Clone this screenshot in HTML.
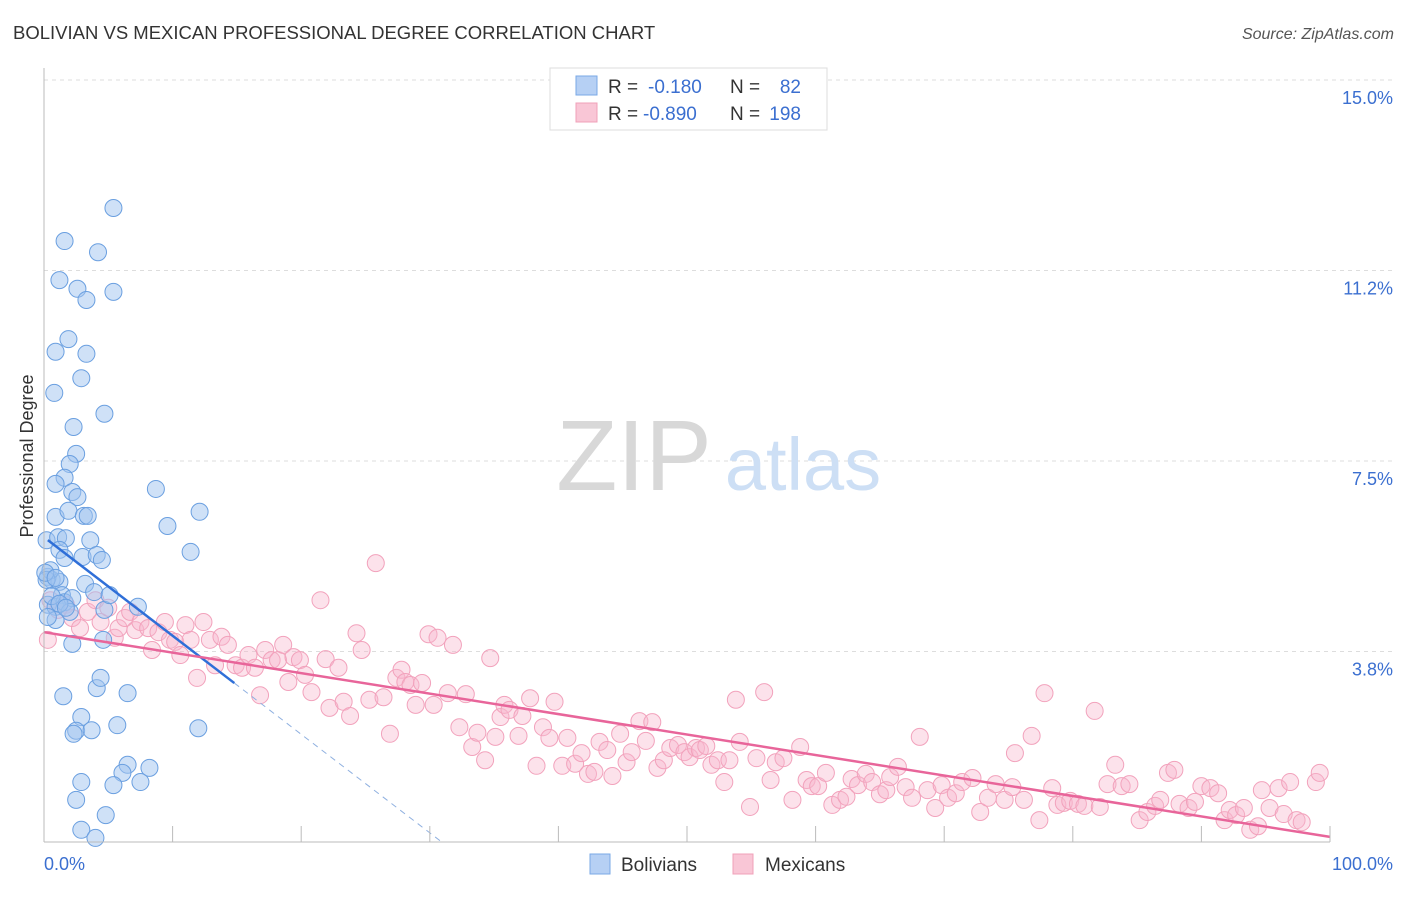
<!DOCTYPE html>
<html><head><meta charset="utf-8">
<style>
body{margin:0;background:#fff;font-family:"Liberation Sans",sans-serif;}
svg text{font-family:"Liberation Sans",sans-serif;}
</style></head>
<body>
<svg id="chart" width="1406" height="892" viewBox="0 0 1406 892" xmlns="http://www.w3.org/2000/svg">
<text x="13" y="39" font-size="18.5" fill="#333">BOLIVIAN VS MEXICAN PROFESSIONAL DEGREE CORRELATION CHART</text>
<text x="1394" y="39" font-size="16" fill="#555" text-anchor="end" font-style="italic">Source: ZipAtlas.com</text>
<g id="grid"></g>
<g>
<text x="634" y="490" font-size="100" fill="#d8d8d8" text-anchor="middle" font-family="Liberation Serif, serif">ZIP</text>
<text x="803" y="490" font-size="74" fill="#cddff5" text-anchor="middle">atlas</text>
</g>
<g id="pts"></g>
<g id="lines"></g>
<g id="axes"></g>
<text transform="translate(33,456) rotate(-90)" font-size="18" fill="#333" text-anchor="middle">Professional Degree</text>
<g>
<rect x="550" y="68" width="277" height="62" fill="#fff" stroke="#ddd"/>
<rect x="576" y="76" width="21" height="19" fill="#b6d0f4" stroke="#7aa8e6"/>
<rect x="576" y="103" width="21" height="19" fill="#f9c6d6" stroke="#f0a0b8"/>
<text x="608" y="93" font-size="19" fill="#333">R =</text>
<text x="648" y="93" font-size="19" fill="#3b6fd0">-0.180</text>
<text x="730" y="93" font-size="19" fill="#333">N =</text>
<text x="801" y="93" font-size="19" fill="#3b6fd0" text-anchor="end">82</text>
<text x="608" y="120" font-size="19" fill="#333">R =</text>
<text x="643" y="120" font-size="19" fill="#3b6fd0">-0.890</text>
<text x="730" y="120" font-size="19" fill="#333">N =</text>
<text x="801" y="120" font-size="19" fill="#3b6fd0" text-anchor="end">198</text>
</g>
<g>
<rect x="590" y="854" width="20" height="20" fill="#b6d0f4" stroke="#7aa8e6"/>
<text x="621" y="871" font-size="19" fill="#333">Bolivians</text>
<rect x="733" y="854" width="20" height="20" fill="#f9c6d6" stroke="#f0a0b8"/>
<text x="765" y="871" font-size="19" fill="#333">Mexicans</text>
</g>
</svg>
<script>
const yTicks=[3.75,7.5,11.25,15];
const yTickLabels=["3.8%","7.5%","11.2%","15.0%"];
const xTickLabels=["0.0%","100.0%"];
const bolX=[5.4,1.6,4.2,1.2,2.6,3.3,5.4,1.9,0.9,3.3,2.9,0.8,4.7,2.3,2.5,2.0,1.6,0.9,8.7,2.2,2.6,12.1,9.6,0.9,1.9,3.1,3.4,0.2,1.1,1.7,3.6,1.2,1.6,3.0,4.1,4.5,11.4,0.3,0.6,1.2,3.2,3.9,1.4,0.3,0.9,1.6,2.2,7.3,4.7,0.9,2.0,0.3,2.2,4.6,1.5,4.1,4.4,6.5,12.0,2.9,2.5,2.3,3.7,5.7,2.9,6.5,8.2,6.1,5.4,7.5,2.5,4.8,2.9,4.0,5.1,0.5,0.2,0.6,1.2,1.7,0.1,0.9];
const bolY=[12.48,11.83,11.61,11.06,10.89,10.67,10.83,9.90,9.65,9.61,9.13,8.84,8.43,8.17,7.64,7.44,7.17,7.05,6.95,6.89,6.79,6.50,6.22,6.40,6.52,6.42,6.42,5.94,6.00,5.98,5.94,5.75,5.59,5.61,5.65,5.55,5.71,5.22,5.16,5.12,5.08,4.92,4.86,4.67,4.63,4.72,4.80,4.63,4.57,4.37,4.53,4.43,3.90,3.98,2.87,3.03,3.23,2.93,2.24,2.46,2.19,2.13,2.20,2.30,1.18,1.52,1.46,1.36,1.12,1.18,0.83,0.53,0.24,0.08,4.86,5.35,5.16,4.84,4.69,4.61,5.30,5.20];
const mexX=[0.3,0.5,1.1,1.7,2.2,2.8,3.4,4.0,4.4,5.0,5.5,5.8,6.3,6.7,7.1,7.5,8.1,8.4,8.9,9.4,9.8,10.2,10.6,11.0,11.4,11.9,12.4,12.9,13.3,13.8,14.3,14.9,15.4,15.9,16.4,16.8,17.2,17.7,18.2,18.6,19.0,19.4,19.9,20.3,20.8,21.5,21.9,22.2,22.9,23.3,23.8,24.3,24.7,25.3,25.8,26.4,26.9,27.4,27.8,28.1,28.5,28.9,29.4,29.9,30.3,30.6,31.4,31.8,32.3,32.8,33.3,33.7,34.3,34.7,35.1,35.5,35.8,36.2,36.9,37.2,37.8,38.3,38.8,39.3,39.7,40.3,40.7,41.3,41.8,42.3,42.8,43.2,43.8,44.2,44.8,45.3,45.7,46.3,46.8,47.3,47.7,48.2,48.7,49.3,49.8,50.2,50.7,51.0,51.5,51.9,52.4,52.9,53.3,53.8,54.1,54.9,55.4,56.0,56.5,56.9,57.5,58.2,58.8,59.3,59.7,60.2,60.8,61.3,61.9,62.4,62.8,63.3,63.9,64.4,65.0,65.5,65.8,66.4,67.0,67.5,68.1,68.7,69.3,69.8,70.3,70.9,71.4,72.2,72.8,73.4,74.0,74.7,75.3,75.5,76.2,76.8,77.4,77.8,78.4,78.8,79.3,79.8,80.4,80.9,81.7,82.1,82.7,83.3,83.8,84.4,85.2,85.8,86.4,86.8,87.4,87.9,88.3,89.0,89.5,90.0,90.7,91.3,91.8,92.2,92.7,93.3,93.8,94.4,94.7,95.3,96.0,96.4,96.9,97.4,97.8,98.9,99.2];
const mexY=[3.98,4.76,4.57,4.67,4.41,4.21,4.53,4.76,4.33,4.61,4.02,4.21,4.41,4.53,4.17,4.33,4.21,3.78,4.13,4.33,3.98,3.94,3.68,4.27,3.98,3.23,4.33,3.98,3.48,4.04,3.88,3.48,3.43,3.68,3.43,2.89,3.78,3.58,3.58,3.88,3.15,3.64,3.58,3.29,2.95,4.76,3.60,2.64,3.43,2.76,2.48,4.11,3.78,2.80,5.49,2.85,2.13,3.23,3.39,3.15,3.09,2.70,3.13,4.09,2.70,4.02,2.93,3.88,2.26,2.91,1.87,2.15,1.61,3.62,2.07,2.46,2.70,2.60,2.09,2.48,2.83,1.50,2.26,2.05,2.76,1.50,2.05,1.54,1.75,1.34,1.38,1.97,1.81,1.30,2.13,1.57,1.77,2.38,1.99,2.36,1.46,1.61,1.85,1.91,1.77,1.67,1.85,1.81,1.89,1.52,1.61,1.18,1.61,2.80,1.97,0.69,1.65,2.95,1.22,1.57,1.65,0.83,1.87,1.22,1.10,1.10,1.36,0.73,0.83,0.89,1.24,1.12,1.34,1.18,0.94,1.02,1.28,1.48,1.08,0.87,2.07,1.02,0.67,1.12,0.87,0.96,1.18,1.26,0.59,0.87,1.14,0.83,1.08,1.75,0.83,2.09,0.43,2.93,1.06,0.73,0.77,0.81,0.75,0.71,2.58,0.69,1.14,1.52,1.10,1.14,0.43,0.59,0.71,0.83,1.36,1.42,0.75,0.67,0.79,1.10,1.06,0.96,0.43,0.63,0.53,0.67,0.24,0.31,1.02,0.67,1.06,0.55,1.18,0.43,0.39,1.18,1.36];
const bolTrend=[6.0,-0.194];
const mexTrend=[4.13,-0.0403];

const NS="http://www.w3.org/2000/svg";
const X0=44,X1=1330,Y0=842,YTOP=80;
function sx(v){return X0+(X1-X0)*v/100;}
function sy(v){return Y0-(Y0-YTOP)*v/15;}
function mk(t,a,p){const e=document.createElementNS(NS,t);for(const k in a)e.setAttribute(k,a[k]);p.appendChild(e);return e;}
const grid=document.getElementById('grid'),axes=document.getElementById('axes'),pts=document.getElementById('pts'),lines=document.getElementById('lines');
yTicks.forEach((t,i)=>{
  const g=mk('line',{x1:X0,x2:1393,y1:sy(t),y2:sy(t),stroke:'#ddd','stroke-dasharray':'4,4'},grid);
  
  
  const tx=mk('text',{x:1393,y:sy(t)+24,'font-size':18,fill:'#3b6fd0','text-anchor':'end'},axes);
  tx.textContent=yTickLabels[i];
  
  
});
const la=mk('line',{x1:X0,x2:X0,y1:68,y2:Y0,stroke:'#bbb'},axes);


const ba=mk('line',{x1:X0,x2:X1,y1:Y0,y2:Y0,stroke:'#bbb'},axes);


for(let i=0;i<=10;i++){
  const t=mk('line',{x1:sx(i*10),x2:sx(i*10),y1:826,y2:Y0,stroke:'#bbb'},axes);
  
  
}
[[0,'start',44],[1,'end',1393]].forEach(([i,a,x])=>{
  const t=mk('text',{x:x,y:870,'font-size':18,fill:'#3b6fd0','text-anchor':a},axes);
  t.textContent=xTickLabels[i];
  
  
});
mexX.forEach((v,i)=>{
  const c=mk('circle',{cx:sx(v),cy:sy(mexY[i]),r:8.5,fill:'rgba(248,182,204,0.4)',stroke:'#f2a2bc','stroke-width':1},pts);
  
  
});
bolX.forEach((v,i)=>{
  const c=mk('circle',{cx:sx(v),cy:sy(bolY[i]),r:8.5,fill:'rgba(160,196,240,0.5)',stroke:'#6a9fe0','stroke-width':1},pts);
  
  
});
const bEnd=14.8,bZero=-bolTrend[0]/bolTrend[1];
const l1=mk('line',{x1:sx(0.3),y1:sy(bolTrend[0]+bolTrend[1]*0.3),x2:sx(bEnd),y2:sy(bolTrend[0]+bolTrend[1]*bEnd),stroke:'#2f6fd8','stroke-width':2.5},lines);


const l2=mk('line',{x1:sx(bEnd),y1:sy(bolTrend[0]+bolTrend[1]*bEnd),x2:sx(bZero),y2:sy(0),stroke:'#8fb0e0','stroke-width':1,'stroke-dasharray':'6,5'},lines);


const l3=mk('line',{x1:sx(0),y1:sy(mexTrend[0]),x2:sx(100),y2:sy(mexTrend[0]+mexTrend[1]*100),stroke:'#e8659a','stroke-width':2.5},lines);


</script>
</body></html>
